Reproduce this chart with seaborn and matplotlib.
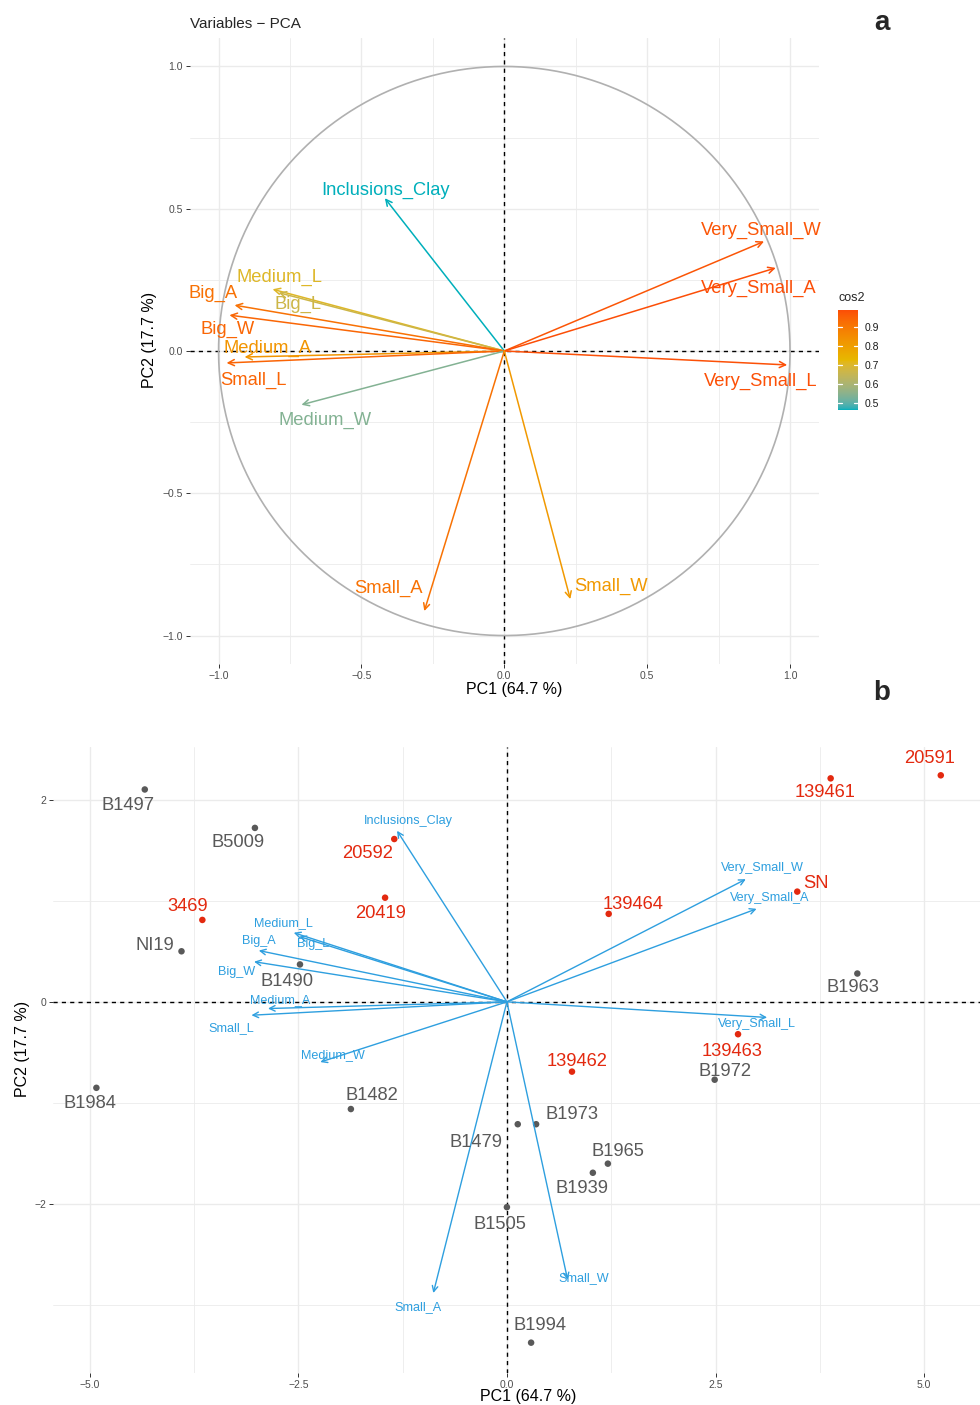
import numpy as np
import pandas as pd
import matplotlib
matplotlib.use("Agg")
import matplotlib.pyplot as plt
import seaborn as sns
from matplotlib.colors import ListedColormap, Normalize

# ---------------- data ----------------
var_names = ["Inclusions_Clay", "Medium_L", "Big_L", "Big_A", "Big_W", "Medium_A",
             "Small_L", "Medium_W", "Very_Small_W", "Very_Small_A", "Very_Small_L",
             "Small_A", "Small_W"]
var_pc1 = [-0.418, -0.811, -0.790, -0.944, -0.962, -0.909, -0.972, -0.710,
           0.909, 0.950, 0.990, -0.280, 0.231]
var_pc2 = [0.537, 0.217, 0.205, 0.161, 0.126, -0.021, -0.042, -0.189,
           0.385, 0.292, -0.049, -0.914, -0.872]

ind_names = ["B1497", "B5009", "NI19", "B1490", "B1984", "B1482", "B1973", "B1479",
             "B1965", "B1939", "B1505", "B1994", "B1972", "B1963",
             "20591", "139461", "20592", "3469", "20419", "139464", "SN",
             "139462", "139463"]
ind_pc1 = [-4.34, -3.02, -3.90, -2.48, -4.92, -1.87, 0.35, 0.13,
           1.21, 1.03, 0.00, 0.29, 2.49, 4.20,
           5.20, 3.88, -1.35, -3.65, -1.46, 1.22, 3.48, 0.78, 2.77]
ind_pc2 = [2.10, 1.72, 0.50, 0.37, -0.85, -1.06, -1.21, -1.21,
           -1.60, -1.69, -2.03, -3.37, -0.77, 0.28,
           2.24, 2.21, 1.61, 0.81, 1.03, 0.87, 1.09, -0.69, -0.32]
ind_group = ["other"] * 14 + ["highlight"] * 9

pc1_label = "PC1 (64.7 %)"
pc2_label = "PC2 (17.7 %)"
a_ticks = [-1.0, -0.5, 0.0, 0.5, 1.0]
a_ticklabels = ["\u22121.0", "\u22120.5", "0.0", "0.5", "1.0"]
b_xticks = [-5.0, -2.5, 0.0, 2.5, 5.0]
b_xticklabels = ["\u22125.0", "\u22122.5", "0.0", "2.5", "5.0"]
b_yticks = [-2, 0, 2]
b_yticklabels = ["\u22122", "0", "2"]
cbar_ticks = [0.5, 0.6, 0.7, 0.8, 0.9]
gradient_cols = ["#00AFBB", "#E7B800", "#FC4E07"]

# ---------------- layout (label offsets in pixels, x right / y up) -------------
off_a = {"Inclusions_Clay": (1, 10), "Medium_L": (7, 14), "Big_L": (19, -9),
         "Big_A": (-22, 14), "Big_W": (-2, -12), "Medium_A": (23, 11),
         "Small_L": (27, -15), "Medium_W": (24, -13), "Very_Small_W": (-3, 14),
         "Very_Small_A": (-17, -18), "Very_Small_L": (-26, -14),
         "Small_A": (-36, 25), "Small_W": (41, 15)}
off_bv = {"Inclusions_Clay": (11, 11), "Medium_L": (-10, 11), "Big_L": (14, -6),
          "Big_A": (0, 11), "Big_W": (-17, -9), "Medium_A": (12, 10),
          "Small_L": (-20, -12), "Medium_W": (13, 8), "Very_Small_W": (17, 12),
          "Very_Small_A": (13, 12), "Very_Small_L": (-10, -5),
          "Small_W": (16, 3), "Small_A": (-15, -13)}
off_ind = {"B1497": (-17, -14), "B5009": (-17, -12), "NI19": (-27, 8),
           "B1490": (-13, -15), "B1984": (-6, -13), "B1482": (21, 16),
           "B1973": (36, 12), "B1479": (-42, -16), "B1965": (10, 15),
           "B1939": (-11, -13), "B1505": (-7, -15), "B1994": (9, 20),
           "B1972": (10, 11), "B1963": (-4, -11), "20591": (-11, 19),
           "139461": (-6, -12), "20592": (-27, -12), "3469": (-15, 16),
           "20419": (-5, -13), "139464": (24, 12), "SN": (19, 11),
           "139462": (5, 13), "139463": (-6, -15)}
TEXT_DY = -2.5  # small global baseline correction (pixels)
biplot_scale = 3.15


# ---------------- colour helpers (Lab interpolation like ggplot) ----------------
_M = np.array([[0.4124564, 0.3575761, 0.1804375],
               [0.2126729, 0.7151522, 0.0721750],
               [0.0193339, 0.1191920, 0.9503041]])
_WHITE = np.array([0.95047, 1.0, 1.08883])
_D = 6 / 29


def _hex2lab(h):
    c = np.array([int(h[i:i + 2], 16) for i in (1, 3, 5)]) / 255
    lin = np.where(c <= 0.04045, c / 12.92, ((c + 0.055) / 1.055) ** 2.4)
    xyz = _M @ lin / _WHITE
    f = np.where(xyz > _D ** 3, np.cbrt(xyz), xyz / (3 * _D ** 2) + 4 / 29)
    return np.array([116 * f[1] - 16, 500 * (f[0] - f[1]), 200 * (f[1] - f[2])])


def _lab2rgb(lab):
    fy = (lab[0] + 16) / 116
    fx = fy + lab[1] / 500
    fz = fy - lab[2] / 200
    f = np.array([fx, fy, fz])
    xyz = np.where(f > _D, f ** 3, 3 * _D ** 2 * (f - 4 / 29)) * _WHITE
    lin = np.linalg.solve(_M, xyz)
    lin = np.clip(lin, 0, 1)
    c = np.where(lin <= 0.0031308, 12.92 * lin, 1.055 * lin ** (1 / 2.4) - 0.055)
    return np.clip(c, 0, 1)


def lab_cmap(cols, n=256):
    labs = [_hex2lab(h) for h in cols]
    pos = np.linspace(0, 1, len(cols))
    out = []
    for t in np.linspace(0, 1, n):
        k = min(np.searchsorted(pos, t, side="right") - 1, len(cols) - 2)
        u = (t - pos[k]) / (pos[k + 1] - pos[k])
        out.append(_lab2rgb(labs[k] * (1 - u) + labs[k + 1] * u))
    return ListedColormap(out)


# ---------------- style ----------------
sns.set_theme(style="white")
plt.rcParams["font.family"] = ["Liberation Sans", "DejaVu Sans"]
plt.rcParams["axes.unicode_minus"] = True

W, H = 980, 1405
fig = plt.figure(figsize=(W / 100, H / 100), dpi=100)
fig.patch.set_facecolor("white")

GRID = "#EBEBEB"
TICKC = "#4D4D4D"
cmap = lab_cmap(gradient_cols)

vars_df = pd.DataFrame({"name": var_names, "PC1": var_pc1, "PC2": var_pc2})
vars_df["cos2"] = vars_df["PC1"] ** 2 + vars_df["PC2"] ** 2
norm = Normalize(vars_df["cos2"].min(), vars_df["cos2"].max())

ind_df = pd.DataFrame({"name": ind_names, "PC1": ind_pc1, "PC2": ind_pc2, "group": ind_group})
ind_colors = {"other": "#595959", "highlight": "#E3290F"}


def style_axes(ax, xlim, ylim, xt, xtl, yt, ytl, xminor, yminor):
    ax.set_xlim(*xlim)
    ax.set_ylim(*ylim)
    ax.set_xticks(xt, xtl)
    ax.set_yticks(yt, ytl)
    ax.set_xticks(xminor, minor=True)
    ax.set_yticks(yminor, minor=True)
    ax.grid(which="major", color=GRID, lw=1.0, zorder=0)
    ax.grid(which="minor", color=GRID, lw=0.6, zorder=0)
    ax.set_axisbelow(True)
    for s in ax.spines.values():
        s.set_visible(False)
    ax.tick_params(which="major", length=3, width=0.7, color="#333333",
                   labelsize=7.5, labelcolor=TICKC, pad=2,
                   bottom=True, left=True)
    ax.tick_params(which="minor", length=0)
    ax.axhline(0, color="black", lw=1.0, ls=(0, (3, 3)), zorder=1)
    ax.axvline(0, color="black", lw=1.0, ls=(0, (3, 3)), zorder=1)


# ---------------- panel a ----------------
axa = fig.add_axes([190 / W, 1 - 664 / H, 628.6 / W, 626 / H])
style_axes(axa, (-1.1, 1.1), (-1.1, 1.1), a_ticks, a_ticklabels, a_ticks, a_ticklabels,
           [-0.75, -0.25, 0.25, 0.75], [-0.75, -0.25, 0.25, 0.75])
theta = np.linspace(0, 2 * np.pi, 400)
axa.plot(np.cos(theta), np.sin(theta), color="#B0B0B0", lw=1.2, zorder=1)

for _, r in vars_df.iterrows():
    c = cmap(norm(r["cos2"]))
    axa.annotate("", xy=(r["PC1"], r["PC2"]), xytext=(0, 0),
                 arrowprops=dict(arrowstyle="->", color=c, lw=1.1,
                                 shrinkA=0, shrinkB=0, mutation_scale=11),
                 zorder=3)
    dx, dy = off_a[r["name"]]
    t = axa.annotate(r["name"], xy=(r["PC1"], r["PC2"]), xytext=(dx, dy + TEXT_DY),
                     textcoords="offset pixels", ha="center", va="center",
                     fontsize=13.2, color=c, zorder=4, annotation_clip=False)
    t.set_clip_on(True)

axa.set_xlabel(pc1_label, fontsize=11.5, color="black")
axa.set_ylabel(pc2_label, fontsize=11.5, color="black")
axa.xaxis.set_label_coords(0.515, -0.029)
axa.yaxis.set_label_coords(-0.064, 0.518)
axa.yaxis.label.set_va("center")

fig.text(190 / W, 1 - 24 / H, "Variables \u2212 PCA", fontsize=11, ha="left", va="center")

# colorbar
cax = fig.add_axes([838 / W, 1 - 410 / H, 20 / W, 100 / H])
vmin, vmax = norm.vmin, norm.vmax
grad = np.linspace(vmin, vmax, 256).reshape(-1, 1)
cax.imshow(grad, aspect="auto", cmap=cmap, norm=norm, origin="lower",
           extent=[0, 1, vmin, vmax])
cax.set_xlim(0, 1)
cax.set_ylim(vmin, vmax)
for tv in cbar_ticks:
    cax.plot([0, 0.2], [tv, tv], color="white", lw=0.9)
    cax.plot([0.8, 1], [tv, tv], color="white", lw=0.9)
cax.set_xticks([])
cax.yaxis.tick_right()
cax.set_yticks(cbar_ticks, [f"{v:.1f}" for v in cbar_ticks])
cax.tick_params(axis="y", length=0, labelsize=7.5, pad=5, labelcolor="#1A1A1A")
for s in cax.spines.values():
    s.set_visible(False)
fig.text(838 / W, 1 - 298 / H, "cos2", fontsize=9, ha="left", va="center")

# ---------------- panel b ----------------
axb = fig.add_axes([53 / W, 1 - 1373 / H, 927 / W, 626 / H])
style_axes(axb, (-5.44, 5.67), (-3.67, 2.52), b_xticks, b_xticklabels, b_yticks, b_yticklabels,
           [-3.75, -1.25, 1.25, 3.75], [-3, -1, 1])

sns.scatterplot(data=ind_df, x="PC1", y="PC2", hue="group", palette=ind_colors,
                s=22, linewidth=0, legend=False, ax=axb, zorder=3)
for _, r in ind_df.iterrows():
    dx, dy = off_ind[r["name"]]
    axb.annotate(r["name"], xy=(r["PC1"], r["PC2"]), xytext=(dx, dy + TEXT_DY),
                 textcoords="offset pixels", ha="center", va="center",
                 fontsize=13.2, color=ind_colors[r["group"]], zorder=4)

BLUE = "#2E9FDF"
for _, r in vars_df.iterrows():
    x, y = r["PC1"] * biplot_scale, r["PC2"] * biplot_scale
    axb.annotate("", xy=(x, y), xytext=(0, 0),
                 arrowprops=dict(arrowstyle="->", color=BLUE, lw=1.0,
                                 shrinkA=0, shrinkB=0, mutation_scale=10),
                 zorder=3)
    dx, dy = off_bv[r["name"]]
    axb.annotate(r["name"], xy=(x, y), xytext=(dx, dy + TEXT_DY / 2),
                 textcoords="offset pixels",
                 ha="center", va="center", fontsize=9.1, color=BLUE, zorder=4)

axb.set_xlabel(pc1_label, fontsize=11.5, color="black")
axb.set_ylabel(pc2_label, fontsize=11.5, color="black")
axb.xaxis.set_label_coords(0.513, -0.026)
axb.yaxis.set_label_coords(-0.033, 0.518)
axb.yaxis.label.set_va("center")

fig.text(882 / W, 1 - 23 / H, "a", fontsize=20, fontweight="bold", ha="center", va="center")
fig.text(882 / W, 1 - 693 / H, "b", fontsize=20, fontweight="bold", ha="center", va="center")

fig.savefig("out.png", dpi=100, facecolor="white")
